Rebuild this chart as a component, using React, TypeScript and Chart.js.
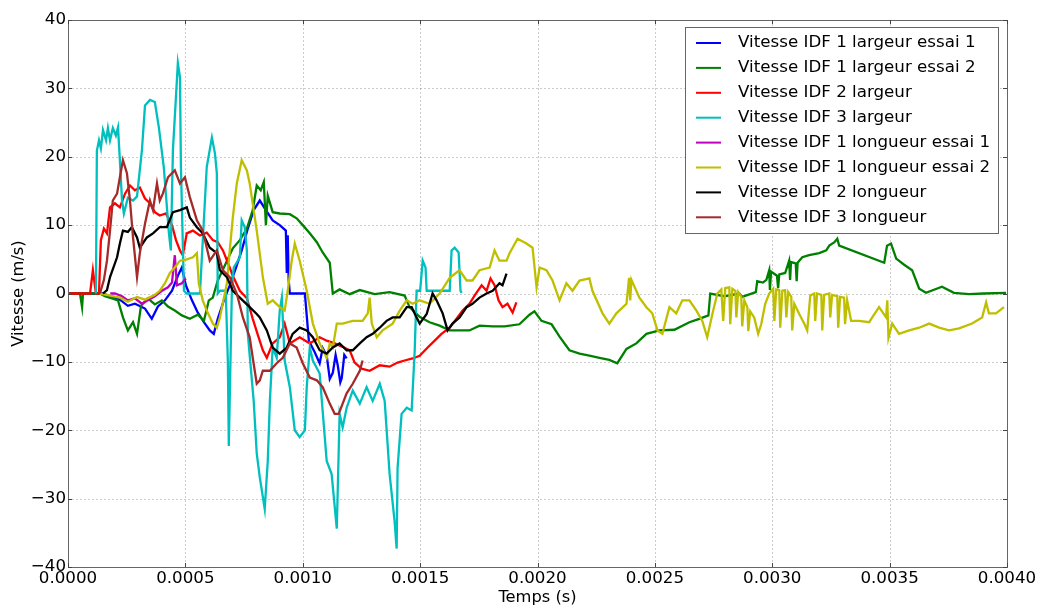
import React, { useEffect, useRef } from "react";
import { Chart, registerables } from "chart.js";

Chart.register(...registerables);

const seriesNames = [
  "Vitesse IDF 1 largeur essai 1",
  "Vitesse IDF 1 largeur essai 2",
  "Vitesse IDF 2 largeur",
  "Vitesse IDF 3 largeur",
  "Vitesse IDF 1 longueur essai 1",
  "Vitesse IDF 1 longueur essai 2",
  "Vitesse IDF 2 longueur",
  "Vitesse IDF 3 longueur",
];
const seriesColors = ["#0000ff", "#008000", "#ff0000", "#00bfbf", "#bf00bf", "#bfbf00", "#000000", "#a52a2a"];

const xTicks = [0, 0.0005, 0.001, 0.0015, 0.002, 0.0025, 0.003, 0.0035, 0.004];
const yTicks = [-40, -30, -20, -10, 0, 10, 20, 30, 40];
const xTitle = "Temps (s)";
const yTitle = "Vitesse (m/s)";

// [time (s), speed (m/s)]
const idf1LargeurEssai1: [number, number][] = [
  [0, 0], [0.000149, 0], [0.000179, -0.4], [0.000221, -0.9], [0.000255, -1.8], [0.000285, -1.5],
  [0.000328, -2.2], [0.000357, -3.7], [0.000383, -1.9], [0.000413, -1.0], [0.000443, 0.4], [0.000468, 2.6],
  [0.000485, 3.8], [0.000502, 1.2], [0.000528, -1.0], [0.000553, -2.8], [0.000579, -4.2], [0.000604, -5.4],
  [0.000621, -5.9], [0.000638, -3.7], [0.000664, -1.0], [0.000689, 1.2], [0.000715, 3.7], [0.00074, 6.3],
  [0.000766, 9.5], [0.000791, 12.2], [0.000817, 13.6], [0.000843, 12.2], [0.000872, 10.7], [0.000902, 10.0],
  [0.000928, 9.2], [0.000932, 3.0], [0.000936, 8.5], [0.00094, 2.0], [0.000945, 0], [0.001009, 0],
  [0.001026, -6.9], [0.001051, -8.6], [0.001072, -10.2], [0.001085, -8.0], [0.001102, -9.1], [0.001115, -12.5],
  [0.001128, -11.6], [0.00114, -9.0], [0.001149, -10.5], [0.00116, -13.0], [0.001166, -12.4], [0.001177, -9.0],
  [0.001187, -9.5],
];

const idf1LargeurEssai2: [number, number][] = [
  [0, 0], [0.000051, 0], [0.00006, -2], [0.000064, 0], [0.000136, 0], [0.000157, -0.4], [0.000187, -0.7],
  [0.000213, -1.0], [0.000234, -3.5], [0.000255, -5.4], [0.000277, -4.2], [0.000294, -5.9], [0.000311, -1.8],
  [0.00034, -0.7], [0.00037, -1.6], [0.0004, -1.0], [0.000426, -1.9], [0.000455, -2.5], [0.000485, -3.2],
  [0.000519, -3.7], [0.000553, -3.1], [0.000579, -4.0], [0.0006, -1.0], [0.000617, -0.6], [0.000638, 1.9],
  [0.000668, 4.1], [0.000702, 6.6], [0.000732, 7.8], [0.000762, 9.5], [0.000787, 12.2], [0.000804, 15.8],
  [0.000821, 15.1], [0.000834, 16.3], [0.000843, 10.0], [0.000851, 14.3], [0.000872, 11.9], [0.000902, 11.7],
  [0.000945, 11.6], [0.000974, 11.0], [0.001, 10.0], [0.00103, 8.8], [0.00106, 7.5], [0.001085, 6.0],
  [0.001115, 4.5], [0.001128, 0], [0.001157, 0.6], [0.0012, -0.1], [0.001243, 0.5], [0.001306, -0.1],
  [0.00137, 0.2], [0.001434, -0.3], [0.001455, -2.0], [0.001498, -3.4], [0.00154, -4.2], [0.001583, -4.7],
  [0.001626, -5.4], [0.001668, -5.4], [0.00171, -5.4], [0.001753, -4.7], [0.001809, -4.8], [0.00186, -4.8],
  [0.001923, -4.5], [0.001966, -3.1], [0.001987, -2.6], [0.002017, -4.0], [0.00206, -4.5], [0.002094, -6.3],
  [0.002136, -8.3], [0.002179, -8.8], [0.002221, -9.1], [0.002264, -9.4], [0.002306, -9.7], [0.00234, -10.2],
  [0.002379, -8.1], [0.002421, -7.3], [0.002464, -5.9], [0.002519, -5.4], [0.002583, -5.3], [0.002647, -4.2],
  [0.002689, -3.7], [0.002728, -3.2], [0.002736, 0], [0.002796, -0.4], [0.00286, 0], [0.002872, -0.5],
  [0.00293, 0.2], [0.002936, 1.8], [0.00296, 1.6], [0.002975, 2.0], [0.002987, 3.4], [0.00299, 0.5],
  [0.002995, 3.2], [0.00302, 2.6], [0.003025, 0.8], [0.00303, 2.8], [0.003055, 3.0], [0.003072, 4.8],
  [0.003076, 2.0], [0.00308, 4.6], [0.0031, 4.4], [0.003104, 1.8], [0.003108, 4.5], [0.003128, 5.3],
  [0.003157, 5.6], [0.0032, 5.9], [0.00323, 6.3], [0.003243, 7.0], [0.003265, 7.5], [0.003277, 8.0],
  [0.003285, 7.0], [0.003477, 4.5], [0.003489, 7.0], [0.003506, 7.3], [0.003528, 5.1], [0.003562, 4.2],
  [0.003596, 3.4], [0.003626, 0.7], [0.003655, 0.1], [0.003723, 1.0], [0.003774, 0.1], [0.003838, -0.1],
  [0.003902, 0], [0.003996, 0.1],
];

const idf2Largeur: [number, number][] = [
  [0, 0], [0.000094, 0], [0.000106, 3.4], [0.000119, 0], [0.000132, 0], [0.00014, 7.8], [0.000153, 9.5],
  [0.000166, 8.8], [0.000179, 12.6], [0.0002, 13.2], [0.000221, 12.6], [0.000243, 14.6], [0.000264, 15.8],
  [0.000285, 15.1], [0.000306, 15.5], [0.000328, 13.9], [0.000349, 13.2], [0.00037, 11.9], [0.000391, 11.4],
  [0.000417, 11.7], [0.000443, 10.0], [0.00046, 7.8], [0.000477, 6.3], [0.000489, 5.6], [0.000506, 8.8],
  [0.000532, 9.2], [0.000562, 8.5], [0.000591, 8.9], [0.000617, 7.8], [0.000638, 7.5], [0.00066, 6.3],
  [0.000681, 4.5], [0.000702, 2.6], [0.000732, 0.4], [0.000762, -0.7], [0.000787, -3.7], [0.000809, -6.1],
  [0.00083, -8.3], [0.000847, -9.4], [0.000872, -7.3], [0.000902, -6.4], [0.000923, -4.4], [0.000945, -7.3],
  [0.000987, -6.4], [0.00103, -7.3], [0.001072, -6.4], [0.001102, -6.9], [0.001136, -7.3], [0.00117, -7.8],
  [0.0012, -8.3], [0.001221, -10.1], [0.001251, -11.0], [0.001285, -11.3], [0.001328, -10.5], [0.00137, -10.7],
  [0.001404, -10.1], [0.001434, -9.8], [0.001468, -9.5], [0.001498, -9.1], [0.001532, -7.9], [0.001562, -6.9],
  [0.001591, -5.9], [0.001626, -5.0], [0.001655, -3.7], [0.001681, -2.5], [0.00171, -1.5], [0.001736, -0.1],
  [0.001762, 1.2], [0.001783, 0.4], [0.0018, 2.2], [0.001817, 1.2], [0.001834, -1.0], [0.001851, -2.0],
  [0.001872, -1.5], [0.001894, -2.8], [0.00191, -1.3],
];

const idf3Largeur: [number, number][] = [
  [0.000119, 0], [0.000123, 20.9], [0.000132, 22.4], [0.00014, 21.2], [0.000149, 23.9], [0.000162, 22.4],
  [0.00017, 24.2], [0.000179, 22.4], [0.000191, 24.2], [0.000204, 23.1], [0.000213, 24.3], [0.000221, 19.5],
  [0.00023, 13.6], [0.000238, 11.7], [0.000255, 14.0], [0.000277, 13.6], [0.000294, 14.2], [0.000315, 21.0],
  [0.000328, 27.5], [0.000349, 28.3], [0.00037, 28.0], [0.000387, 24.3], [0.000408, 18.5], [0.00043, 8.8],
  [0.000438, 6.3], [0.000447, 21.0], [0.000455, 25.8], [0.000468, 33.7], [0.000477, 31.6], [0.000481, 18.5],
  [0.000494, 0.4], [0.000506, 0], [0.000562, 0], [0.000591, 18.5], [0.000613, 22.8], [0.000626, 20.5],
  [0.000634, 17.6], [0.000638, 0], [0.000647, 0.4], [0.000672, 0.4], [0.000681, -10], [0.000685, -22.3],
  [0.000698, 0.4], [0.000706, 3.8], [0.000732, 5.3], [0.00074, 10.7], [0.000753, 9.7], [0.000762, 6.3],
  [0.000766, -5.9], [0.000791, -15.7], [0.000804, -23.4], [0.000817, -26.9], [0.000838, -31.5], [0.000851, -24.5],
  [0.00086, -15.7], [0.000872, -7.9], [0.000889, -9.4], [0.000902, -2.5], [0.000911, -0.6], [0.000923, -9.8],
  [0.000945, -13.7], [0.000966, -20.0], [0.000987, -21.0], [0.001009, -20.0], [0.001017, -13.7], [0.00103, -7.9],
  [0.001043, -9.8], [0.001072, -11.7], [0.001102, -24.5], [0.001123, -26.4], [0.001145, -34.4], [0.001157, -17.6],
  [0.00117, -19.6], [0.001187, -16.7], [0.001213, -14.2], [0.001243, -16.1], [0.001272, -13.7], [0.001298, -15.7],
  [0.001328, -13.2], [0.001349, -15.7], [0.00137, -26.4], [0.001391, -33.2], [0.0014, -37.3], [0.001404, -25.5],
  [0.001421, -17.6], [0.001443, -16.7], [0.001464, -17.1], [0.001477, -8.3], [0.001485, 0.4], [0.0015, 0.4],
  [0.001511, 4.8], [0.001523, 3.8], [0.001528, 0.4], [0.001626, 0.4], [0.001634, 6.3], [0.001647, 6.7],
  [0.001664, 6.0], [0.001672, 0.4], [0.001677, 0.1],
];

const idf1LongueurEssai1: [number, number][] = [
  [0.00018, 0], [0.0002, 0], [0.00023, -0.4], [0.000255, -1.0], [0.000285, -0.7], [0.000315, -1.5],
  [0.00034, -1.0], [0.00037, -0.4], [0.0004, 0.4], [0.000426, 0.9], [0.000443, 1.6], [0.000455, 5.6],
  [0.000464, 1.2], [0.000485, 1.5], [0.000502, 2.2],
];

const idf1LongueurEssai2: [number, number][] = [
  [0.000136, 0], [0.000179, -0.3], [0.000221, -0.6], [0.000255, -1.2], [0.000294, -0.5], [0.000328, -0.9],
  [0.00037, -0.2], [0.000391, 0.4], [0.000413, 1.5], [0.000434, 3.0], [0.000455, 3.8], [0.000477, 4.8],
  [0.000506, 5.0], [0.000532, 5.3], [0.000549, 5.9], [0.000557, 1.5], [0.000574, -1.0], [0.000591, -2.5],
  [0.000617, -4.4], [0.000634, -5.0], [0.000647, -3.5], [0.000677, 1.5], [0.000689, 6.3], [0.000702, 11.1],
  [0.000719, 16.1], [0.00074, 19.5], [0.000762, 18.0], [0.000774, 16.1], [0.000804, 9.2], [0.00083, 2.4],
  [0.000851, -1.5], [0.000872, -1.0], [0.000902, -2.0], [0.000923, -2.5], [0.000936, 0.4], [0.000953, 4.8],
  [0.000966, 7.3], [0.000987, 4.8], [0.001017, 0.4], [0.001043, -4.4], [0.001072, -7.3], [0.001102, -9.4],
  [0.001115, -7.3], [0.001128, -7.9], [0.001145, -4.4], [0.00117, -4.4], [0.001213, -4.0], [0.001255, -4.0],
  [0.001277, -2.9], [0.001285, -0.6], [0.001294, -4.4], [0.001315, -6.4], [0.00134, -5.4], [0.001383, -4.4],
  [0.001413, -2.5], [0.001443, -1.0], [0.001468, -1.5], [0.001498, -1.0], [0.00154, -1.5], [0.001583, 0],
  [0.001626, 2.3], [0.001668, 3.4], [0.001698, 1.9], [0.001723, 1.9], [0.001753, 3.4], [0.001796, 3.8],
  [0.001817, 6.3], [0.001838, 4.8], [0.001868, 4.8], [0.001881, 5.9], [0.001915, 8.0], [0.001953, 7.3],
  [0.001979, 6.7], [0.001996, 0.9], [0.002009, 3.8], [0.002038, 3.4], [0.002064, 1.9], [0.002094, -1.0],
  [0.002123, 1.5], [0.002149, 0.4], [0.002179, 1.9], [0.002221, 2.2], [0.002234, 0.4], [0.002277, -2.9],
  [0.002306, -4.4], [0.002336, -2.9], [0.002379, -1.5], [0.00239, 2.3], [0.002395, -1.0], [0.0024, 2.0],
  [0.002434, -0.6], [0.002464, -2.0], [0.002489, -2.9], [0.002511, -5.4], [0.002532, -5.9], [0.002562, -2.0],
  [0.002591, -2.9], [0.002617, -1.0], [0.002647, -1.0], [0.002677, -2.5], [0.002702, -4.0], [0.002723, -6.4],
  [0.002745, -3.0], [0.002766, 0], [0.002783, 0.6], [0.002791, -4.0], [0.0028, 0.8], [0.002817, 0.9],
  [0.002821, -4.5], [0.00283, 0.7], [0.002843, 0.4], [0.002847, -3.5], [0.002855, 0.2], [0.002868, -0.5],
  [0.002872, -4.8], [0.002881, -1.0], [0.002894, -2.0], [0.002898, -5.5], [0.002906, -2.6], [0.002923, -3.5],
  [0.00294, -5.9], [0.002953, -4.5], [0.00297, -1.5], [0.002987, 0], [0.003004, 0.7], [0.003009, -4.0],
  [0.003017, 0.6], [0.00303, 0.5], [0.003034, -5.0], [0.003043, 0.4], [0.003055, 0.5], [0.00306, -3.5],
  [0.003068, 0.2], [0.003081, -0.5], [0.003085, -5.4], [0.003094, -1.5], [0.003115, -3.0], [0.003136, -4.4],
  [0.003149, -5.4], [0.003162, -0.3], [0.003179, 0], [0.003183, -4.0], [0.003191, 0], [0.003209, -0.2],
  [0.003213, -5.4], [0.003221, -0.2], [0.003243, 0], [0.003247, -3.5], [0.003255, -0.2], [0.003277, -0.4],
  [0.003281, -5.0], [0.003289, -0.5], [0.003306, -0.6], [0.00331, -4.5], [0.003319, -1.0], [0.003336, -4.0],
  [0.00337, -4.0], [0.003413, -4.2], [0.003426, -3.5], [0.003455, -2.0], [0.003485, -3.5], [0.00349, -1.0],
  [0.003495, -6.5], [0.003511, -4.4], [0.00354, -5.9], [0.003583, -5.4], [0.003626, -5.0], [0.003668, -4.4],
  [0.003711, -5.0], [0.003753, -5.4], [0.003796, -5.1], [0.003851, -4.4], [0.003894, -3.5], [0.003911, -1.3],
  [0.003923, -2.9], [0.003953, -2.9], [0.003987, -2.0],
];

const idf2Longueur: [number, number][] = [
  [0.000149, 0], [0.000166, 0.5], [0.000179, 2.4], [0.000209, 5.3], [0.000221, 7.3], [0.000234, 9.2],
  [0.000255, 9.0], [0.000272, 9.7], [0.000294, 8.2], [0.000306, 6.7], [0.000336, 8.2], [0.000362, 8.8],
  [0.000391, 9.7], [0.000421, 9.7], [0.000447, 11.9], [0.000477, 12.2], [0.000506, 12.6], [0.000519, 11.1],
  [0.000549, 9.7], [0.000574, 8.8], [0.000604, 6.7], [0.000634, 5.9], [0.000647, 3.4], [0.000677, 2.4],
  [0.000702, 0.4], [0.000732, -0.6], [0.000774, -2.0], [0.000804, -3.0], [0.000817, -3.5], [0.000847, -5.4],
  [0.000872, -7.9], [0.000902, -8.8], [0.000932, -7.9], [0.000957, -5.9], [0.000987, -5.0], [0.001017, -5.4],
  [0.001043, -6.4], [0.001072, -8.3], [0.001102, -8.8], [0.001128, -7.9], [0.001157, -7.3], [0.001187, -8.3],
  [0.001213, -8.3], [0.001243, -7.3], [0.001272, -6.4], [0.001298, -5.9], [0.001328, -5.0], [0.001357, -4.0],
  [0.001383, -3.5], [0.001413, -3.5], [0.001443, -2.0], [0.001464, -2.0], [0.001485, -3.5], [0.001498, -4.4],
  [0.001528, -3.0], [0.001553, 0], [0.00157, -1.0], [0.001596, -2.9], [0.001617, -5.4], [0.001638, -4.4],
  [0.001668, -3.5], [0.001698, -2.0], [0.001723, -1.5], [0.001753, -0.6], [0.001783, 0], [0.001809, 0.4],
  [0.001838, 1.5], [0.001851, 1.2], [0.001868, 2.9],
];

const idf3Longueur: [number, number][] = [
  [0.000136, 0], [0.000153, 2.0], [0.000166, 4.8], [0.000179, 9.2], [0.000191, 13.6], [0.000209, 14.6],
  [0.000221, 17.0], [0.000234, 19.5], [0.000251, 17.6], [0.000264, 13.6], [0.000277, 8.2], [0.000294, 2.4],
  [0.000306, 5.9], [0.000328, 10.2], [0.000349, 13.6], [0.000362, 12.2], [0.000379, 16.1], [0.000391, 13.6],
  [0.000404, 14.6], [0.000426, 17.0], [0.000455, 18.0], [0.000477, 16.1], [0.000498, 17.0], [0.000519, 14.1],
  [0.000549, 10.7], [0.000574, 9.2], [0.000604, 4.8], [0.000634, 6.3], [0.00066, 3.4], [0.000689, 2.4],
  [0.000719, 0], [0.000745, -3.5], [0.000774, -6.4], [0.000787, -9.4], [0.000804, -13.2], [0.000817, -12.7],
  [0.00083, -11.3], [0.00086, -11.3], [0.000889, -10.2], [0.000915, -9.4], [0.000945, -7.3], [0.000974, -7.9],
  [0.001, -10.2], [0.00103, -12.3], [0.00106, -12.7], [0.001085, -13.7], [0.001115, -16.1], [0.001136, -17.6],
  [0.001153, -17.6], [0.00117, -16.1], [0.001187, -14.6], [0.001213, -13.2], [0.001243, -11.3], [0.001255, -9.8],
];

const allSeries = [
  idf1LargeurEssai1,
  idf1LargeurEssai2,
  idf2Largeur,
  idf3Largeur,
  idf1LongueurEssai1,
  idf1LongueurEssai2,
  idf2Longueur,
  idf3Longueur,
];

const FONT = "'DejaVu Sans', 'Liberation Sans', sans-serif";

const framePlugin = {
  id: "mplFrame",
  beforeDatasetsDraw(chart: any) {
    const { ctx, chartArea, scales } = chart;
    const { left, right, top, bottom } = chartArea;
    ctx.save();
    ctx.strokeStyle = "rgba(0,0,0,0.2)";
    ctx.lineWidth = 1;
    ctx.setLineDash([2, 2]);
    xTicks.forEach((v) => {
      const px = Math.round(scales.x.getPixelForValue(v)) + 0.5;
      ctx.beginPath();
      ctx.moveTo(px, top);
      ctx.lineTo(px, bottom);
      ctx.stroke();
    });
    yTicks.forEach((v) => {
      const py = Math.round(scales.y.getPixelForValue(v)) + 0.5;
      ctx.beginPath();
      ctx.moveTo(left, py);
      ctx.lineTo(right, py);
      ctx.stroke();
    });
    ctx.restore();
  },
  afterDraw(chart: any) {
    const { ctx, chartArea, scales } = chart;
    const { left, right, top, bottom } = chartArea;
    ctx.save();
    ctx.strokeStyle = "#666";
    ctx.lineWidth = 1;
    ctx.setLineDash([]);
    ctx.strokeRect(Math.round(left) + 0.5, Math.round(top) + 0.5, Math.round(right - left), Math.round(bottom - top));
    ctx.strokeStyle = "#444";
    xTicks.forEach((v) => {
      const px = Math.round(scales.x.getPixelForValue(v)) + 0.5;
      ctx.beginPath();
      ctx.moveTo(px, bottom);
      ctx.lineTo(px, bottom - 4);
      ctx.moveTo(px, top);
      ctx.lineTo(px, top + 4);
      ctx.stroke();
    });
    yTicks.forEach((v) => {
      const py = Math.round(scales.y.getPixelForValue(v)) + 0.5;
      ctx.beginPath();
      ctx.moveTo(left, py);
      ctx.lineTo(left + 4, py);
      ctx.moveTo(right, py);
      ctx.lineTo(right - 4, py);
      ctx.stroke();
    });
    ctx.fillStyle = "#000";
    ctx.font = `16.3px ${FONT}`;
    ctx.textAlign = "center";
    ctx.textBaseline = "middle";
    ctx.fillText(xTitle, (left + right) / 2, 598);
    ctx.save();
    ctx.translate(19, (top + bottom) / 2);
    ctx.rotate(-Math.PI / 2);
    ctx.fillText(yTitle, 0, 0);
    ctx.restore();
    const bx = right - 9;
    const lx = 685;
    const ly = top + 7;
    const lh = 206;
    ctx.fillStyle = "#fff";
    ctx.fillRect(lx, ly, bx - lx, lh);
    ctx.strokeStyle = "#666";
    ctx.lineWidth = 1;
    ctx.strokeRect(lx + 0.5, ly + 0.5, bx - lx, lh);
    ctx.font = `16.7px ${FONT}`;
    ctx.textAlign = "left";
    ctx.textBaseline = "middle";
    seriesNames.forEach((name, i) => {
      const yy = ly + 16 + i * 24.9;
      ctx.strokeStyle = seriesColors[i];
      ctx.lineWidth = 2;
      ctx.beginPath();
      ctx.moveTo(696, yy);
      ctx.lineTo(721, yy);
      ctx.stroke();
      ctx.fillStyle = "#000";
      ctx.fillText(name, 738, yy);
    });
    ctx.restore();
  },
};

export default function App() {
  const ref = useRef<HTMLCanvasElement>(null);
  useEffect(() => {
    if (!ref.current) return;
    const n = allSeries.length;
    const chart = new Chart(ref.current, {
      type: "line",
      data: {
        datasets: allSeries.map((s, i) => ({
          label: seriesNames[i],
          data: s.map(([x, y]) => ({ x, y })),
          borderColor: seriesColors[i],
          backgroundColor: seriesColors[i],
          borderWidth: 2.3,
          pointRadius: 0,
          pointHoverRadius: 0,
          fill: false,
          tension: 0,
          order: n - i,
        })),
      },
      options: {
        responsive: false,
        animation: false,
        events: [],
        layout: { padding: { top: 20, right: 36, left: 0, bottom: 0 } },
        plugins: { legend: { display: false }, tooltip: { enabled: false }, title: { display: false } },
        scales: {
          x: {
            type: "linear",
            min: 0,
            max: 0.004,
            grid: { display: false, drawTicks: false },
            border: { display: false },
            afterBuildTicks: (s: any) => {
              s.ticks = xTicks.map((v) => ({ value: v }));
            },
            afterFit: (s: any) => {
              s.height = 43;
            },
            ticks: {
              autoSkip: false,
              maxRotation: 0,
              padding: 2,
              color: "#000",
              font: { family: FONT, size: 16.7 },
              callback: (v: any) => Number(v).toFixed(4),
            },
          },
          y: {
            type: "linear",
            min: -40,
            max: 40,
            grid: { display: false, drawTicks: false },
            border: { display: false },
            afterBuildTicks: (s: any) => {
              s.ticks = yTicks.map((v) => ({ value: v }));
            },
            afterFit: (s: any) => {
              s.width = 68;
            },
            ticks: {
              autoSkip: false,
              padding: 2,
              color: "#000",
              font: { family: FONT, size: 16.7 },
              callback: (v: any) => (Number(v) < 0 ? "\u2212" + Math.abs(Number(v)) : String(v)),
            },
          },
        },
      },
      plugins: [framePlugin],
    } as any);
    return () => chart.destroy();
  }, []);
  return (
    <div style={{ position: "fixed", left: 0, top: 0, width: 1043, height: 610, background: "#fff" }}>
      <canvas ref={ref} width={1043} height={610} style={{ display: "block", width: 1043, height: 610 }} />
    </div>
  );
}
